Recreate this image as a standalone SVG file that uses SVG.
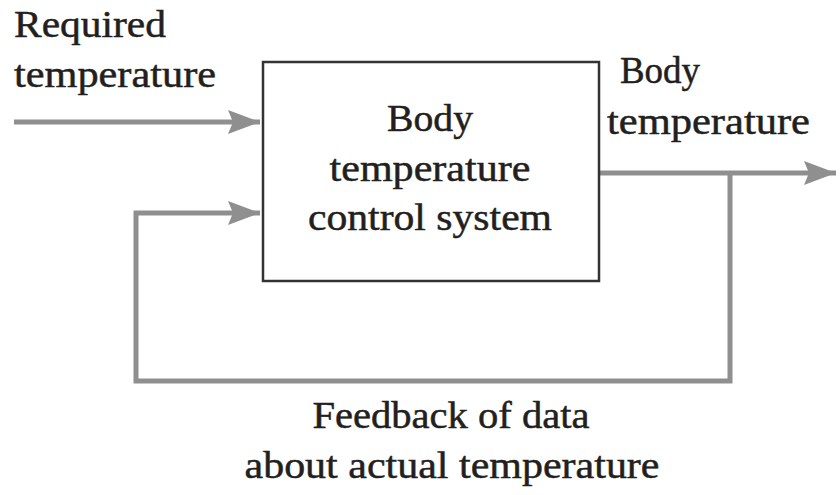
<svg xmlns="http://www.w3.org/2000/svg" width="840" height="495" viewBox="0 0 840 495">
  <style>
    .lbl { font-family: "Liberation Serif", "Times New Roman", serif; font-size: 38px; fill: #231f20; stroke: #231f20; stroke-width: 0.5; }
    .mid { text-anchor: middle; }
    .wire { fill: none; stroke: #8f8f8f; stroke-width: 5; }
    .box { fill: #ffffff; stroke: #333333; stroke-width: 2.5; }
  </style>
  <defs>
    <marker id="arrow" markerUnits="userSpaceOnUse" markerWidth="34" markerHeight="28" refX="32" refY="12" orient="auto">
      <path d="M0,0 L32,12 L0,24 L5,12 Z" fill="#8f8f8f"/>
    </marker>
  </defs>

  <rect width="840" height="495" fill="#ffffff"/>

  <!-- connectors -->
  <g id="connectors">
    <path class="wire" d="M14,122 H260" marker-end="url(#arrow)"/>
    <path class="wire" d="M730,173 V381 H136 V213 H260" marker-end="url(#arrow)"/>
    <path class="wire" d="M599,173 H836" marker-end="url(#arrow)"/>
  </g>

  <!-- controller block -->
  <g id="control-system">
    <rect class="box" x="263" y="62" width="336" height="219"/>
    <text class="lbl mid" x="430" y="131" textLength="86" lengthAdjust="spacingAndGlyphs">Body</text>
    <text class="lbl mid" x="430" y="181" textLength="201" lengthAdjust="spacingAndGlyphs">temperature</text>
    <text class="lbl mid" x="430" y="230" textLength="244" lengthAdjust="spacingAndGlyphs">control system</text>
  </g>

  <!-- setpoint input -->
  <g id="required-temperature">
    <text class="lbl" x="14" y="37" textLength="152" lengthAdjust="spacingAndGlyphs">Required</text>
    <text class="lbl" x="14" y="87" textLength="202" lengthAdjust="spacingAndGlyphs">temperature</text>
  </g>

  <!-- output -->
  <g id="body-temperature">
    <text class="lbl" x="620" y="83" textLength="80" lengthAdjust="spacingAndGlyphs">Body</text>
    <text class="lbl" x="607" y="134" textLength="203" lengthAdjust="spacingAndGlyphs">temperature</text>
  </g>

  <!-- feedback path label -->
  <g id="feedback">
    <text class="lbl mid" x="451" y="428" textLength="277" lengthAdjust="spacingAndGlyphs">Feedback of data</text>
    <text class="lbl mid" x="452" y="478" textLength="415" lengthAdjust="spacingAndGlyphs">about actual temperature</text>
  </g>
</svg>
